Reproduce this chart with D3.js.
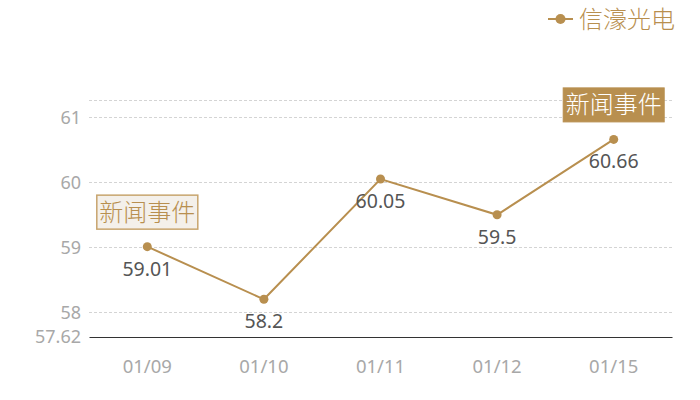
<!DOCTYPE html>
<html><head><meta charset="utf-8">
<script src="https://cdn.jsdelivr.net/npm/d3@7"></script>
<style>
html,body{margin:0;padding:0;background:#fff;}
svg{display:block;font-family:"Noto Sans CJK SC","Noto Sans",sans-serif;}
</style></head>
<body><svg id="c" width="700" height="400"></svg>
<script>
const categories = ["01/09","01/10","01/11","01/12","01/15"];
const values = [59.01, 58.2, 60.05, 59.5, 60.66];
const seriesName = "信濠光电";
const yTicks = [58, 59, 60, 61];
const yMin = 57.62;
const yMax = 61.266;
const eventIndex = [0, 4];
const eventLabel = "新闻事件";

const gold = "#b88f4f";
const numFont = "'Noto Sans','Noto Sans CJK SC',sans-serif";
const svg = d3.select("#c");
const m = {left: 89, right: 28, top: 100, bottom: 63};
const W = 700, H = 400;
const x = d3.scaleBand().domain(categories).range([m.left, W - m.right]);
const y = d3.scaleLinear().domain([yMin, yMax]).range([H - m.bottom, m.top]);
const cx = d => x(d) + x.bandwidth() / 2;

// grid
const gridVals = yTicks.concat([yMax]);
svg.append("g").selectAll("line").data(gridVals).join("line")
  .attr("x1", m.left).attr("x2", W - m.right)
  .attr("y1", d => Math.round(y(d)) + 0.5).attr("y2", d => Math.round(y(d)) + 0.5)
  .attr("stroke", "#d4d4d4").attr("stroke-dasharray", "3,2");

// y axis labels
const yAxis = d3.axisLeft(y).tickValues(yTicks.concat([yMin])).tickSize(0).tickPadding(8)
  .tickFormat(d => d === yMin ? "57.62" : d3.format("d")(d));
const gy = svg.append("g").attr("transform", `translate(${m.left},0)`).call(yAxis);
gy.select(".domain").remove();
gy.selectAll("text").attr("fill", "#a8a8a8").style("font-size", "18px").attr("font-family", numFont);

// x axis
const xAxis = d3.axisBottom(x).tickSize(0).tickPadding(23);
const gx = svg.append("g").attr("transform", `translate(0,${H - m.bottom})`).call(xAxis);
gx.select(".domain").attr("stroke", "#333").attr("stroke-width", 1.2);
gx.selectAll("text").attr("fill", "#a8a8a8").style("font-size", "18.5px").attr("font-family", numFont);

// line
const line = d3.line().x((d, i) => cx(categories[i])).y(d => y(d));
svg.append("path").datum(values).attr("d", line).attr("fill", "none")
  .attr("stroke", gold).attr("stroke-width", 2);
svg.append("g").selectAll("circle").data(values).join("circle")
  .attr("cx", (d, i) => cx(categories[i])).attr("cy", d => y(d)).attr("r", 4.5).attr("fill", gold);

// value labels
svg.append("g").selectAll("text").data(values).join("text")
  .attr("x", (d, i) => cx(categories[i])).attr("y", d => y(d) + 29)
  .attr("text-anchor", "middle").attr("fill", "#555").style("font-size", "19.5px")
  .attr("font-family", numFont)
  .text(d => d);

// event labels
eventIndex.forEach((i, k) => {
  const px = cx(categories[i]), py = y(values[i]);
  const bw = 102, bh = 35;
  const filled = k === 1;
  const g = svg.append("g").attr("transform", `translate(${px - bw/2},${py - 17 - bh})`);
  g.append("rect").attr("x", 0.5).attr("y", 0.5).attr("width", bw - 1).attr("height", bh - 1)
    .attr("fill", filled ? gold : "#f4f0ea").attr("stroke", filled ? gold : "#c8a56e").attr("stroke-width", filled ? 1 : 1.5);
  g.append("text").attr("x", bw/2).attr("y", bh/2 + 8.5).attr("text-anchor", "middle")
    .attr("fill", filled ? "#fff" : gold).style("font-size", "24px").style("font-weight", 300).text(eventLabel);
});

// legend
const lg = svg.append("g").attr("transform", "translate(548,19)");
lg.append("line").attr("x1", 0).attr("x2", 25).attr("stroke", gold).attr("stroke-width", 2);
lg.append("circle").attr("cx", 12.5).attr("r", 5).attr("fill", gold);
lg.append("text").attr("x", 31).attr("y", 8.5).attr("fill", gold).style("font-size", "24px").style("font-weight", 300).text(seriesName);
</script></body></html>
